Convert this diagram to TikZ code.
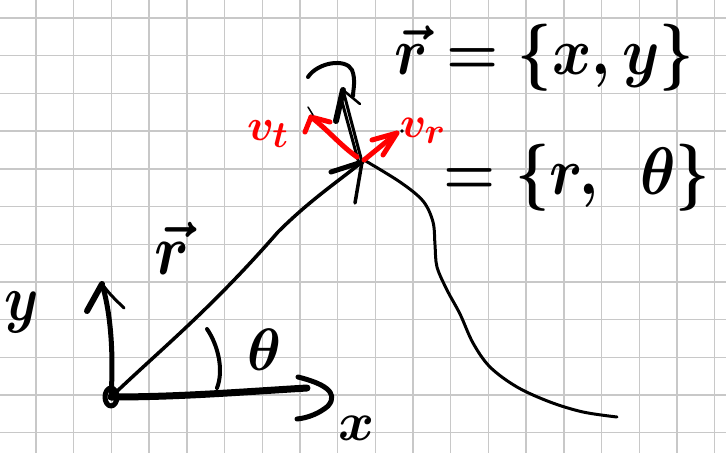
\documentclass[tikz,border=0pt]{standalone}
\usepackage{graphicx}
\definecolor{gridgray}{RGB}{200,200,200}
\newcommand{\bigtext}[3]{\scalebox{#1}[#2]{\Huge\boldmath #3}}
\begin{document}
\begin{tikzpicture}[x=1pt,y=-1pt,
  ink/.style={line cap=round,line join=round,draw=black},
  redink/.style={line cap=round,line join=round,draw=red},
  gridline/.style={draw=gridgray,line width=1.4pt},
  lbl/.style={inner sep=0pt},
  redlbl/.style={inner sep=0pt,text=red}]
\fill[white] (0,0) rectangle (726,453);
\useasboundingbox (0,0) rectangle (726,453);
% grid paper
\foreach \i in {0,...,18} \draw[gridline] ({36+37.7*\i},0) -- ({36+37.7*\i},453);
\foreach \j in {0,...,11} \draw[gridline] (0,{18+37.7*\j}) -- (726,{18+37.7*\j});
% key points
\coordinate (O) at (111,397);
\coordinate (P) at (362,162);
\coordinate (ytip) at (102,284);
\coordinate (xtip) at (307,388);
\coordinate (vtip) at (343,90);
\coordinate (vttip) at (311,117);
\coordinate (vrtip) at (397,133);
% origin blob
\draw[ink,line width=5pt] (O) ellipse (6 and 9);
% y axis
\draw[ink,line width=5pt] (O) .. controls (114,350) and (110,310) .. (ytip);
\draw[ink,line width=6pt] (ytip) -- (87,311);
\draw[ink,line width=3pt] (ytip) .. controls (110,295) and (118,302) .. (124,308);
% x axis
\draw[ink,line width=7pt] (O) .. controls (180,397) and (240,392) .. (xtip);
\draw[ink,line width=5pt] (298,377) .. controls (322,383) and (340,392) .. (328,406) .. controls (320,413) and (308,418) .. (297,419);
% radius vector
\draw[ink,line width=3.5pt] (O) .. controls (160,350) and (210,310) .. (278,232) .. controls (310,200) and (340,180) .. (P);
\draw[ink,line width=5pt] (331,172) -- (P);
\draw[ink,line width=3.5pt] (P) -- (355,203);
% trajectory
\draw[ink,line width=3pt] plot[smooth,tension=0.55] coordinates {(364,160) (400,182) (423,201) (433,222) (435,245) (437,267) (447,290) (460,314) (473,343) (490,367) (517,387) (550,402) (583,412) (617,417)};
% velocity vector
\draw[ink,line width=3pt] (P) -- (vtip);
\draw[ink,line width=3pt] (358,160) -- (341,98);
\draw[ink,line width=6pt] (336,121) -- (vtip);
\draw[ink,line width=2.5pt] (vtip) -- (360,104);
\draw[ink,line width=4pt] (308,77) .. controls (318,62) and (346,58) .. (352,70) .. controls (356,80) and (353,90) .. (353,96);
% red components
\draw[redink,line width=5pt] (357,157) .. controls (340,145) and (328,130) .. (vttip);
\draw[redink,line width=5pt] (305,132) -- (vttip) -- (330,122);
\draw[ink,line width=1.5pt] (308,107) -- (313,115);
\draw[redink,line width=5pt] (364,160) -- (vrtip);
\draw[redink,line width=5pt] (372,140) -- (vrtip) -- (383,155);
\fill[black] (402,131) circle (1.8);
% angle arc
\draw[ink,line width=4pt] (207,329) .. controls (218,345) and (224,370) .. (217,388);
% labels
\node[lbl] (thetalbl) at (264,350) {\bigtext{2.3}{2.4}{$\theta$}};
\node[lbl] (xlbl) at (357,428) {\bigtext{2.2}{2.2}{$x$}};
\node[lbl] (ylbl) at (22,312) {\bigtext{2.2}{2.6}{$y$}};
\node[lbl] (rlbl) at (172,248) {\bigtext{2.5}{2.9}{$\vec r$}};
\node[redlbl] (vtlbl) at (268,134) {\bigtext{1.8}{1.8}{$v_t$}};
\node[redlbl] (vrlbl) at (423,131) {\bigtext{1.75}{1.75}{$v_r$}};
\node[lbl] (row1) at (544,58) {\bigtext{2.4}{2.7}{$\vec r = \{x, y\}$}};
\node[lbl] (row2) at (577,178) {\bigtext{2.4}{2.7}{$= \{r,\;\, \theta\}$}};
\end{tikzpicture}
\end{document}
